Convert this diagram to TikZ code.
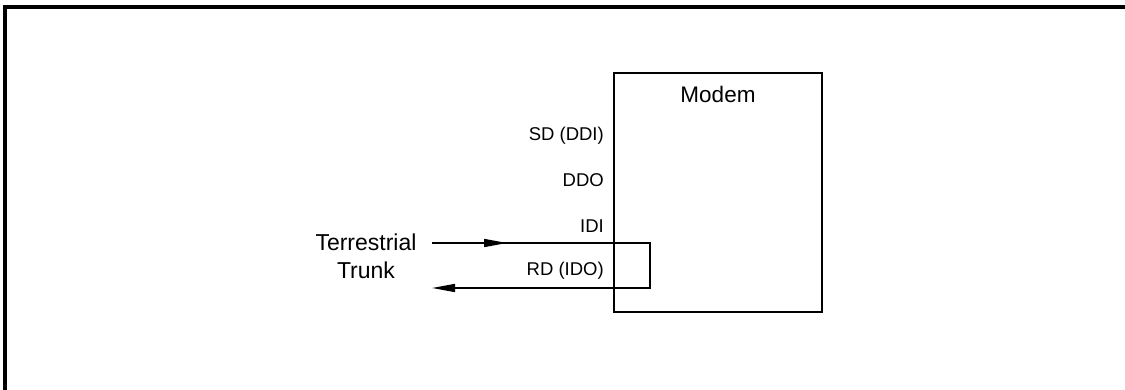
\documentclass[tikz,border=0pt]{standalone}
\usepackage{fontspec}
\setmainfont{Liberation Sans}
\usetikzlibrary{arrows.meta,positioning}
\tikzset{
    frameline/.style={line width=4pt},
    boxline/.style={line width=1.8pt},
    wire/.style={line width=1.6pt},
    sigtip/.style={-{Triangle[length=23pt,width=8pt]}},
    portlabel/.style={anchor=base east, inner sep=0pt, font=\fontsize{18.5}{22}\selectfont}
}

\begin{document}
\begin{tikzpicture}[x=1pt,y=1pt]
    \useasboundingbox (0,0) rectangle (1125,390);
    \draw[frameline] (5,0) -- (5,382.5) -- (1125,382.5);
    \node[draw, boxline, minimum width=208pt, minimum height=239pt] (modem) at (718,197.5) {};
    \node[font=\fontsize{22.5}{27}\selectfont] (title) at ([yshift=-22pt]modem.north) {Modem};
    \node[portlabel] (sd) at (604,249) {SD (DDI)};
    \node[portlabel] (ddo) at (604,203) {DDO};
    \node[portlabel] (idi) at (604,157) {IDI};
    \node[portlabel] (rd) at (604,114) {RD (IDO)};
    \node[align=center, inner sep=0pt, font=\fontsize{23}{28}\selectfont] (trunk) at (366,134) {Terrestrial\\Trunk};
    \coordinate (inA) at (432,147);
    \coordinate (mid) at (507,147);
    \coordinate (loopA) at (650,147);
    \coordinate (loopB) at (650,102);
    \coordinate (outA) at (432,102);
    \draw[wire, sigtip] (inA) -- (mid);
    \draw[wire, sigtip] (inA) -- (loopA) -- (loopB) -- (outA);
\end{tikzpicture}
\end{document}
